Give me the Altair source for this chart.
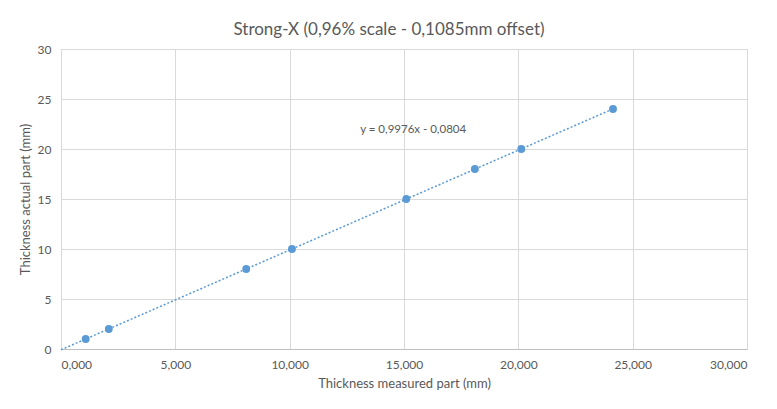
import altair as alt
import pandas as pd

measured = [1.08, 2.09, 8.10, 10.10, 15.10, 18.10, 20.13, 24.14]
actual = [1, 2, 8, 10, 15, 18, 20, 24]
equation_label = ["y = 0,9976x - 0,0804"]
equation_pos_x = [15.4]
equation_pos_y = [21.9]

df = pd.DataFrame({"measured": measured, "actual": actual})
ann = pd.DataFrame({"t": equation_label, "x": equation_pos_x, "y": equation_pos_y})

FONT = "Lato"
GREY = "#595959"
BLUE = "#5B9BD5"

xscale = alt.Scale(domain=[0, 30], nice=False)
yscale = alt.Scale(domain=[0, 30], nice=False)

xaxis = alt.Axis(
    title="Thickness measured part (mm)",
    values=[0, 5, 10, 15, 20, 25, 30],
    labelExpr="replace(format(datum.value, '.3f'), '.', ',')",
    grid=True, gridColor="#d9d9d9", ticks=False, domain=True, domainColor="#bfbfbf",
    labelColor=GREY, labelFontSize=12, labelFont=FONT, labelPadding=10,
    titleColor=GREY, titleFontSize=13, titleFont=FONT, titleFontWeight="normal", titlePadding=7,
)
yaxis = alt.Axis(
    title="Thickness actual part (mm)",
    values=[0, 5, 10, 15, 20, 25, 30],
    grid=True, gridColor="#d9d9d9", ticks=False, domain=False,
    labelColor=GREY, labelFontSize=12, labelFont=FONT, labelPadding=10,
    titleColor=GREY, titleFontSize=13, titleFont=FONT, titleFontWeight="normal", titlePadding=5,
)

base = alt.Chart(df)

trend = base.transform_regression(
    "measured", "actual", method="linear", extent=[0, 24.2]
).mark_line(color=BLUE, strokeWidth=1.5, strokeDash=[2, 2]).encode(
    x=alt.X("measured:Q", scale=xscale, axis=xaxis),
    y=alt.Y("actual:Q", scale=yscale, axis=yaxis),
)

points = base.mark_circle(color=BLUE, size=62, opacity=1).encode(
    x=alt.X("measured:Q", scale=xscale),
    y=alt.Y("actual:Q", scale=yscale),
)

text = alt.Chart(ann).mark_text(color=GREY, fontSize=11.5, font=FONT).encode(
    x=alt.X("x:Q", scale=xscale),
    y=alt.Y("y:Q", scale=yscale),
    text="t:N",
)

chart = alt.layer(trend, points, text).properties(
    width=686, height=300,
    title=alt.TitleParams(
        "Strong-X (0,96% scale - 0,1085mm offset)",
        font=FONT, fontSize=17, fontWeight="normal", color=GREY,
        anchor="middle", dx=-15, offset=4,
    ),
    autosize=alt.AutoSizeParams(type="none"),
    padding={"left": 53, "top": 41, "right": 22, "bottom": 52},
).configure_view(stroke=None).configure(background="white")

chart.save("out.html", embed_options={"renderer": "svg", "actions": False})
